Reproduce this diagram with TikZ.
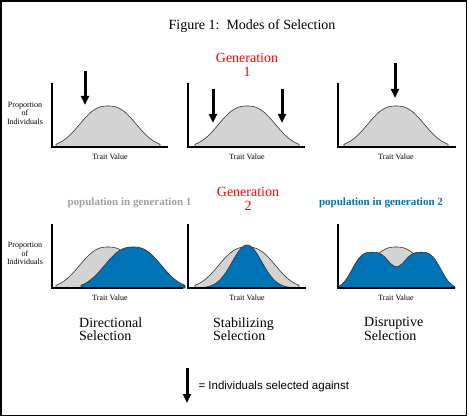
\documentclass[tikz,border=0pt]{standalone}
\usepackage{fontspec}
\setmainfont{Liberation Serif}
\newfontfamily\legendfont{Liberation Sans}
\usetikzlibrary{arrows.meta}
\definecolor{popblue}{RGB}{0,114,182}
\definecolor{popgray}{RGB}{211,211,211}
\definecolor{labelgray}{RGB}{160,160,160}
\tikzset{
  axisline/.style={line width=1.6pt},
  bell/.style={draw=black!80,line width=0.6pt,fill=popgray},
  bluebell/.style={draw=black!80,line width=0.6pt,fill=popblue},
  selarrow/.style={line width=3pt,-{Triangle[width=8pt,length=9pt]}},
  trait/.style={font=\fontsize{8}{8}\selectfont},
  ylabel/.style={font=\fontsize{8}{8.5}\selectfont,align=center},
  gen/.style={text=red,font=\fontsize{14}{14}\selectfont,align=center},
  pop/.style={font=\fontsize{11}{11}\selectfont\bfseries},
  mode/.style={font=\fontsize{14}{13.5}\selectfont,align=left,anchor=west,inner sep=0pt},
}
\begin{document}
\begin{tikzpicture}[x=1pt,y=-1pt]
\useasboundingbox (0,0) rectangle (469,417);
\draw[line width=1.5pt] (1,1) rectangle (466.5,415.5);

\node[font=\fontsize{14}{14}\selectfont] (title) at (252,26) {Figure 1:\ \ Modes of Selection};
\node[gen] (gen1) at (247,65) {Generation\\1};
\node[gen] (gen2) at (248,198.5) {Generation\\2};
\node[pop,text=labelgray] (pop1) at (129.5,203) {population in generation 1};
\node[pop,text=popblue] (pop2) at (381,203) {population in generation 2};

% generation 1
\path[bell] (56,147) -- plot[domain=-52:52,samples=80] ({108+\x},{147-41*exp(-(((\x*\x)/1225+0.00001)^1.25))}) -- (160,147) -- cycle;
\path[bell] (195,147) -- plot[domain=-52:52,samples=80] ({247+\x},{147-41*exp(-(((\x*\x)/1225+0.00001)^1.25))}) -- (299,147) -- cycle;
\path[bell] (344,147) -- plot[domain=-52:52,samples=80] ({396+\x},{147-41*exp(-(((\x*\x)/1225+0.00001)^1.25))}) -- (448,147) -- cycle;

\draw[axisline] (52,83) -- (52,147) -- (168,147);
\draw[axisline] (188,83) -- (188,147) -- (305,147);
\draw[axisline] (338,83) -- (338,147) -- (456,147);

\node[ylabel] (prop1) at (25,113) {Proportion\\of\\Individuals};
\node[trait] (tv1) at (110,157) {Trait Value};
\node[trait] (tv2) at (247,157) {Trait Value};
\node[trait] (tv3) at (396,157) {Trait Value};

\coordinate (d1) at (85,71);   \coordinate (d1e) at (85,105);
\coordinate (s1) at (213,89);  \coordinate (s1e) at (213,123);
\coordinate (s2) at (282,89);  \coordinate (s2e) at (282,123);
\coordinate (r1) at (395,63);  \coordinate (r1e) at (395,98);
\path[draw,selarrow] (d1) -- (d1e);
\path[draw,selarrow] (s1) -- (s1e);
\path[draw,selarrow] (s2) -- (s2e);
\path[draw,selarrow] (r1) -- (r1e);

% generation 2
\path[bell] (56,288) -- plot[domain=-52:52,samples=80] ({108+\x},{288-41*exp(-(((\x*\x)/1225+0.00001)^1.25))}) -- (160,288) -- cycle;
\path[bluebell] (81,288) -- plot[domain=-52:52,samples=80] ({133+\x},{288-41*exp(-(((\x*\x)/1225+0.00001)^1.25))}) -- (185,288) -- cycle;

\path[bell] (195,288) -- plot[domain=-52:52,samples=80] ({247+\x},{288-41*exp(-(((\x*\x)/1225+0.00001)^1.25))}) -- (299,288) -- cycle;
\path[bluebell] (205,288) -- plot[domain=-42:42,samples=80] ({247+\x},{288-43*exp(-((\x/21)^2))}) -- (289,288) -- cycle;

\path[bell] (344,288) -- plot[domain=-52:52,samples=80] ({396+\x},{288-41*exp(-(((\x*\x)/1225+0.00001)^1.25))}) -- (448,288) -- cycle;
\path[bluebell] (338,288) -- plot[domain=-58:58,samples=100] ({396.5+\x},{288-35.75*(exp(-((abs(\x+24.5)/23)^3))+exp(-((abs(\x-24.5)/23)^3)))}) -- (455,288) -- cycle;

\draw[axisline] (52,224) -- (52,288) -- (183,288);
\draw[axisline] (188,224) -- (188,288) -- (306,288);
\draw[axisline] (338,224) -- (338,288) -- (455,288);

\node[ylabel] (prop2) at (25,253.5) {Proportion\\of\\Individuals};
\node[trait] (tv4) at (110,298) {Trait Value};
\node[trait] (tv5) at (247,298) {Trait Value};
\node[trait] (tv6) at (396,298) {Trait Value};

\node[mode] (dir) at (79,329) {Directional\\Selection};
\node[mode] (stab) at (213,329) {Stabilizing\\Selection};
\node[mode] (disr) at (364,329) {Disruptive\\Selection};

% key
\coordinate (k1) at (187,368); \coordinate (k2) at (187,403);
\path[draw,selarrow] (k1) -- (k2);
\node[anchor=west,font=\legendfont\fontsize{11.5}{12}\selectfont] (key) at (195,387) {= Individuals selected against};
\end{tikzpicture}
\end{document}
